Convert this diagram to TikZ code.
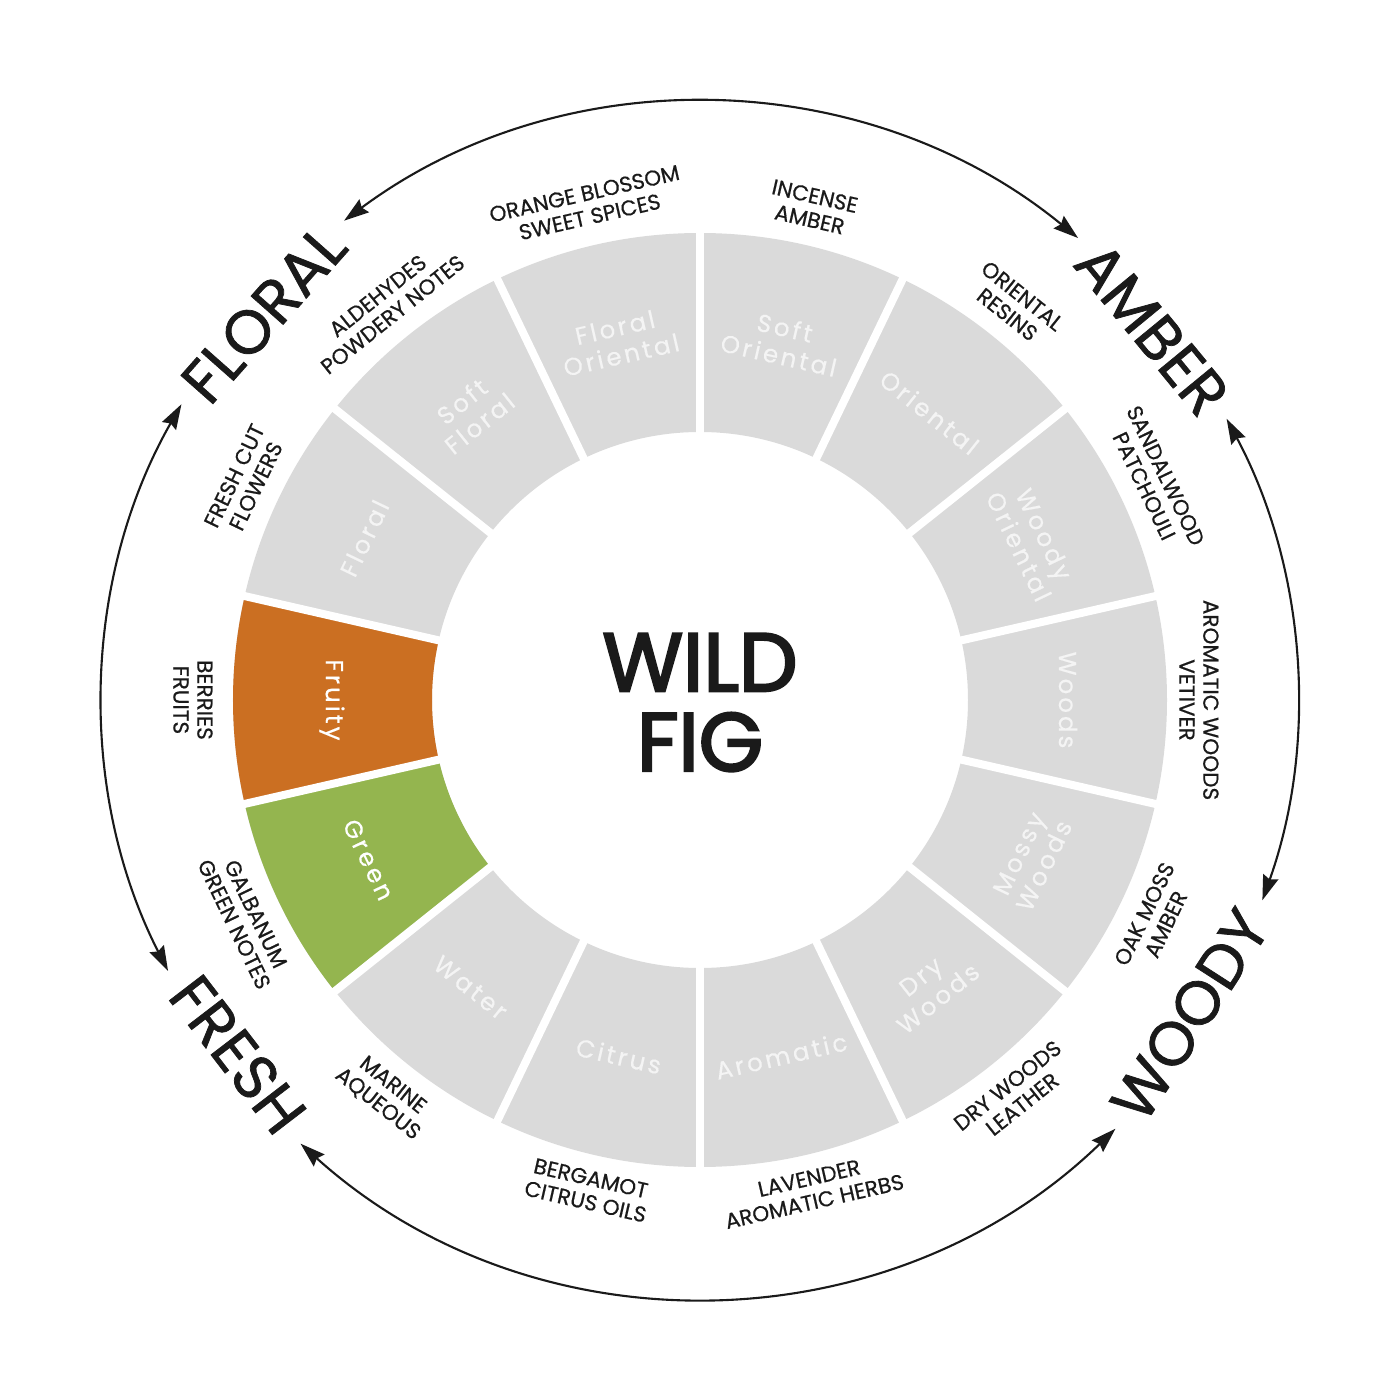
\documentclass[tikz,border=0pt]{standalone}
\usepackage{fontspec}
\setmainfont{Poppins}
\newfontfamily\segfont[LetterSpace=12, FakeBold=0.4]{Poppins}
\newfontfamily\notefont[FakeBold=0.6]{Poppins}
\newfontfamily\famfont[FakeBold=1.2]{Poppins}
\newfontfamily\titlefont[FakeBold=3]{Poppins}
\usetikzlibrary{arrows.meta}
\definecolor{seggray}{HTML}{DADADA}
\definecolor{segtext}{HTML}{F4F4F4}
\definecolor{fruitorange}{HTML}{CB6F22}
\definecolor{leafgreen}{HTML}{94B54F}
\definecolor{ink}{HTML}{1A1A1A}

\begin{document}
\begin{tikzpicture}[
  seglbl/.style={text=segtext, align=center, font=\segfont\fontsize{14}{16}\selectfont},
  notelbl/.style={text=ink, align=center, font=\notefont\fontsize{12.3}{13.6}\selectfont},
  famlbl/.style={text=ink, font=\famfont\fontsize{35}{35}\selectfont},
  gap/.style={white, line width=0.16cm},
  arr/.style={ink, line width=1.2pt, {Stealth[length=0.5cm, width=0.32cm, inset=0.06cm]}-{Stealth[length=0.5cm, width=0.32cm, inset=0.06cm]}},
]
\useasboundingbox (-14,-14) rectangle (14,14);
%\draw[gray, help lines] (-14,-14) grid (14,14);
\fill[seggray, even odd rule] (0,0) circle[radius=9.34] circle[radius=5.36];
\fill[fruitorange] (167.143:5.36) arc[start angle=167.143, end angle=192.857, radius=5.36]
  -- (192.857:9.34) arc[start angle=192.857, end angle=167.143, radius=9.34] -- cycle;
\fill[leafgreen] (192.857:5.36) arc[start angle=192.857, end angle=218.571, radius=5.36]
  -- (218.571:9.34) arc[start angle=218.571, end angle=192.857, radius=9.34] -- cycle;
\draw[gap] (90:9.45) -- (270:9.45);
\draw[gap] (64.286:9.45) -- (244.286:9.45);
\draw[gap] (38.571:9.45) -- (218.571:9.45);
\draw[gap] (12.857:9.45) -- (192.857:9.45);
\draw[gap] (-12.857:9.45) -- (167.143:9.45);
\draw[gap] (-38.571:9.45) -- (141.429:9.45);
\draw[gap] (-64.286:9.45) -- (115.714:9.45);
\node[font=\titlefont\fontsize{47}{45.4}\selectfont, align=center, text=ink] (title) at (0,-0.05) {WILD\\FIG};

\node[seglbl, rotate=12.857] (flor-or) at (102.857:7.36) {Floral\\Oriental};
\node[seglbl, rotate=-12.857] (soft-or) at (77.143:7.36) {Soft\\Oriental};
\node[seglbl, rotate=-38.571] (orient) at (51.429:7.36) {Oriental};
\node[seglbl, rotate=-64.286] (woody-or) at (25.714:7.36) {Woody\\Oriental};
\node[seglbl, rotate=-90] (woods) at (0:7.36) {Woods};
\node[seglbl, rotate=64.286] (mossy) at (-25.714:7.36) {Mossy\\Woods};
\node[seglbl, rotate=38.571] (dry) at (-51.429:7.36) {Dry\\Woods};
\node[seglbl, rotate=12.857] (aromatic) at (-77.143:7.3) {Aromatic};
\node[seglbl, rotate=-12.857] (citrus) at (-102.857:7.3) {Citrus};
\node[seglbl, rotate=-38.571] (water) at (-128.571:7.36) {Water};
\node[seglbl, rotate=-64.286, text=white] (green) at (-154.286:7.36) {Green};
\node[seglbl, rotate=-90, text=white] (fruity) at (180:7.36) {Fruity};
\node[seglbl, rotate=64.286] (floral) at (154.286:7.45) {Floral};
\node[seglbl, rotate=38.571] (soft-fl) at (128.571:7.36) {Soft\\Floral};

\node[notelbl, rotate=12.857] (n-orange) at (102.857:10.15) {ORANGE BLOSSOM\\SWEET SPICES};
\node[notelbl, rotate=-12.857] (n-incense) at (77.143:10.1) {INCENSE\\AMBER};
\node[notelbl, rotate=-38.571] (n-resins) at (51.429:10.1) {ORIENTAL\\RESINS};
\node[notelbl, rotate=-64.286] (n-sandal) at (25.714:10.1) {SANDALWOOD\\PATCHOULI};
\node[notelbl, rotate=-90] (n-vetiver) at (0:9.98) {AROMATIC WOODS\\VETIVER};
\node[notelbl, rotate=64.286] (n-oakmoss) at (-25.714:10.1) {OAK MOSS\\AMBER};
\node[notelbl, rotate=38.571] (n-leather) at (-51.429:10.1) {DRY WOODS\\LEATHER};
\node[notelbl, rotate=12.857] (n-lavender) at (-77.143:10.05) {LAVENDER\\AROMATIC HERBS};
\node[notelbl, rotate=-12.857] (n-bergamot) at (-102.857:10.05) {BERGAMOT\\CITRUS OILS};
\node[notelbl, rotate=-38.571] (n-marine) at (-128.571:10.1) {MARINE\\AQUEOUS};
\node[notelbl, rotate=-64.286] (n-galbanum) at (-154.286:10.1) {GALBANUM\\GREEN NOTES};
\node[notelbl, rotate=-90] (n-berries) at (180:10.14) {BERRIES\\FRUITS};
\node[notelbl, rotate=64.286] (n-cut) at (154.286:10.1) {FRESH CUT\\FLOWERS};
\node[notelbl, rotate=38.571] (n-aldehyd) at (128.571:10.1) {ALDEHYDES\\POWDERY NOTES};

\node[famlbl, rotate=48.5] (fam-floral) at (138.5:11.65) {FLORAL};
\node[famlbl, rotate=-50.6] (fam-amber) at (39.4:11.7) {AMBER};
\node[famlbl, rotate=57.25] (fam-woody) at (-32.75:11.65) {WOODY};
\node[famlbl, rotate=-52.5] (fam-fresh) at (-142.5:11.65) {FRESH};

\coordinate (top-a) at (126.6:11.94);
\coordinate (right-a) at (28.1:11.94);
\coordinate (bot-a) at (-45.9:11.94);
\coordinate (left-a) at (-153:11.94);
\draw[arr] (top-a) arc[start angle=126.6, end angle=50.7, radius=11.94];
\draw[arr] (right-a) arc[start angle=28.1, end angle=-19.6, radius=11.94];
\draw[arr] (bot-a) arc[start angle=-45.9, end angle=-132, radius=11.94];
\draw[arr] (left-a) arc[start angle=-153, end angle=-209.7, radius=11.94];
\end{tikzpicture}
\end{document}
